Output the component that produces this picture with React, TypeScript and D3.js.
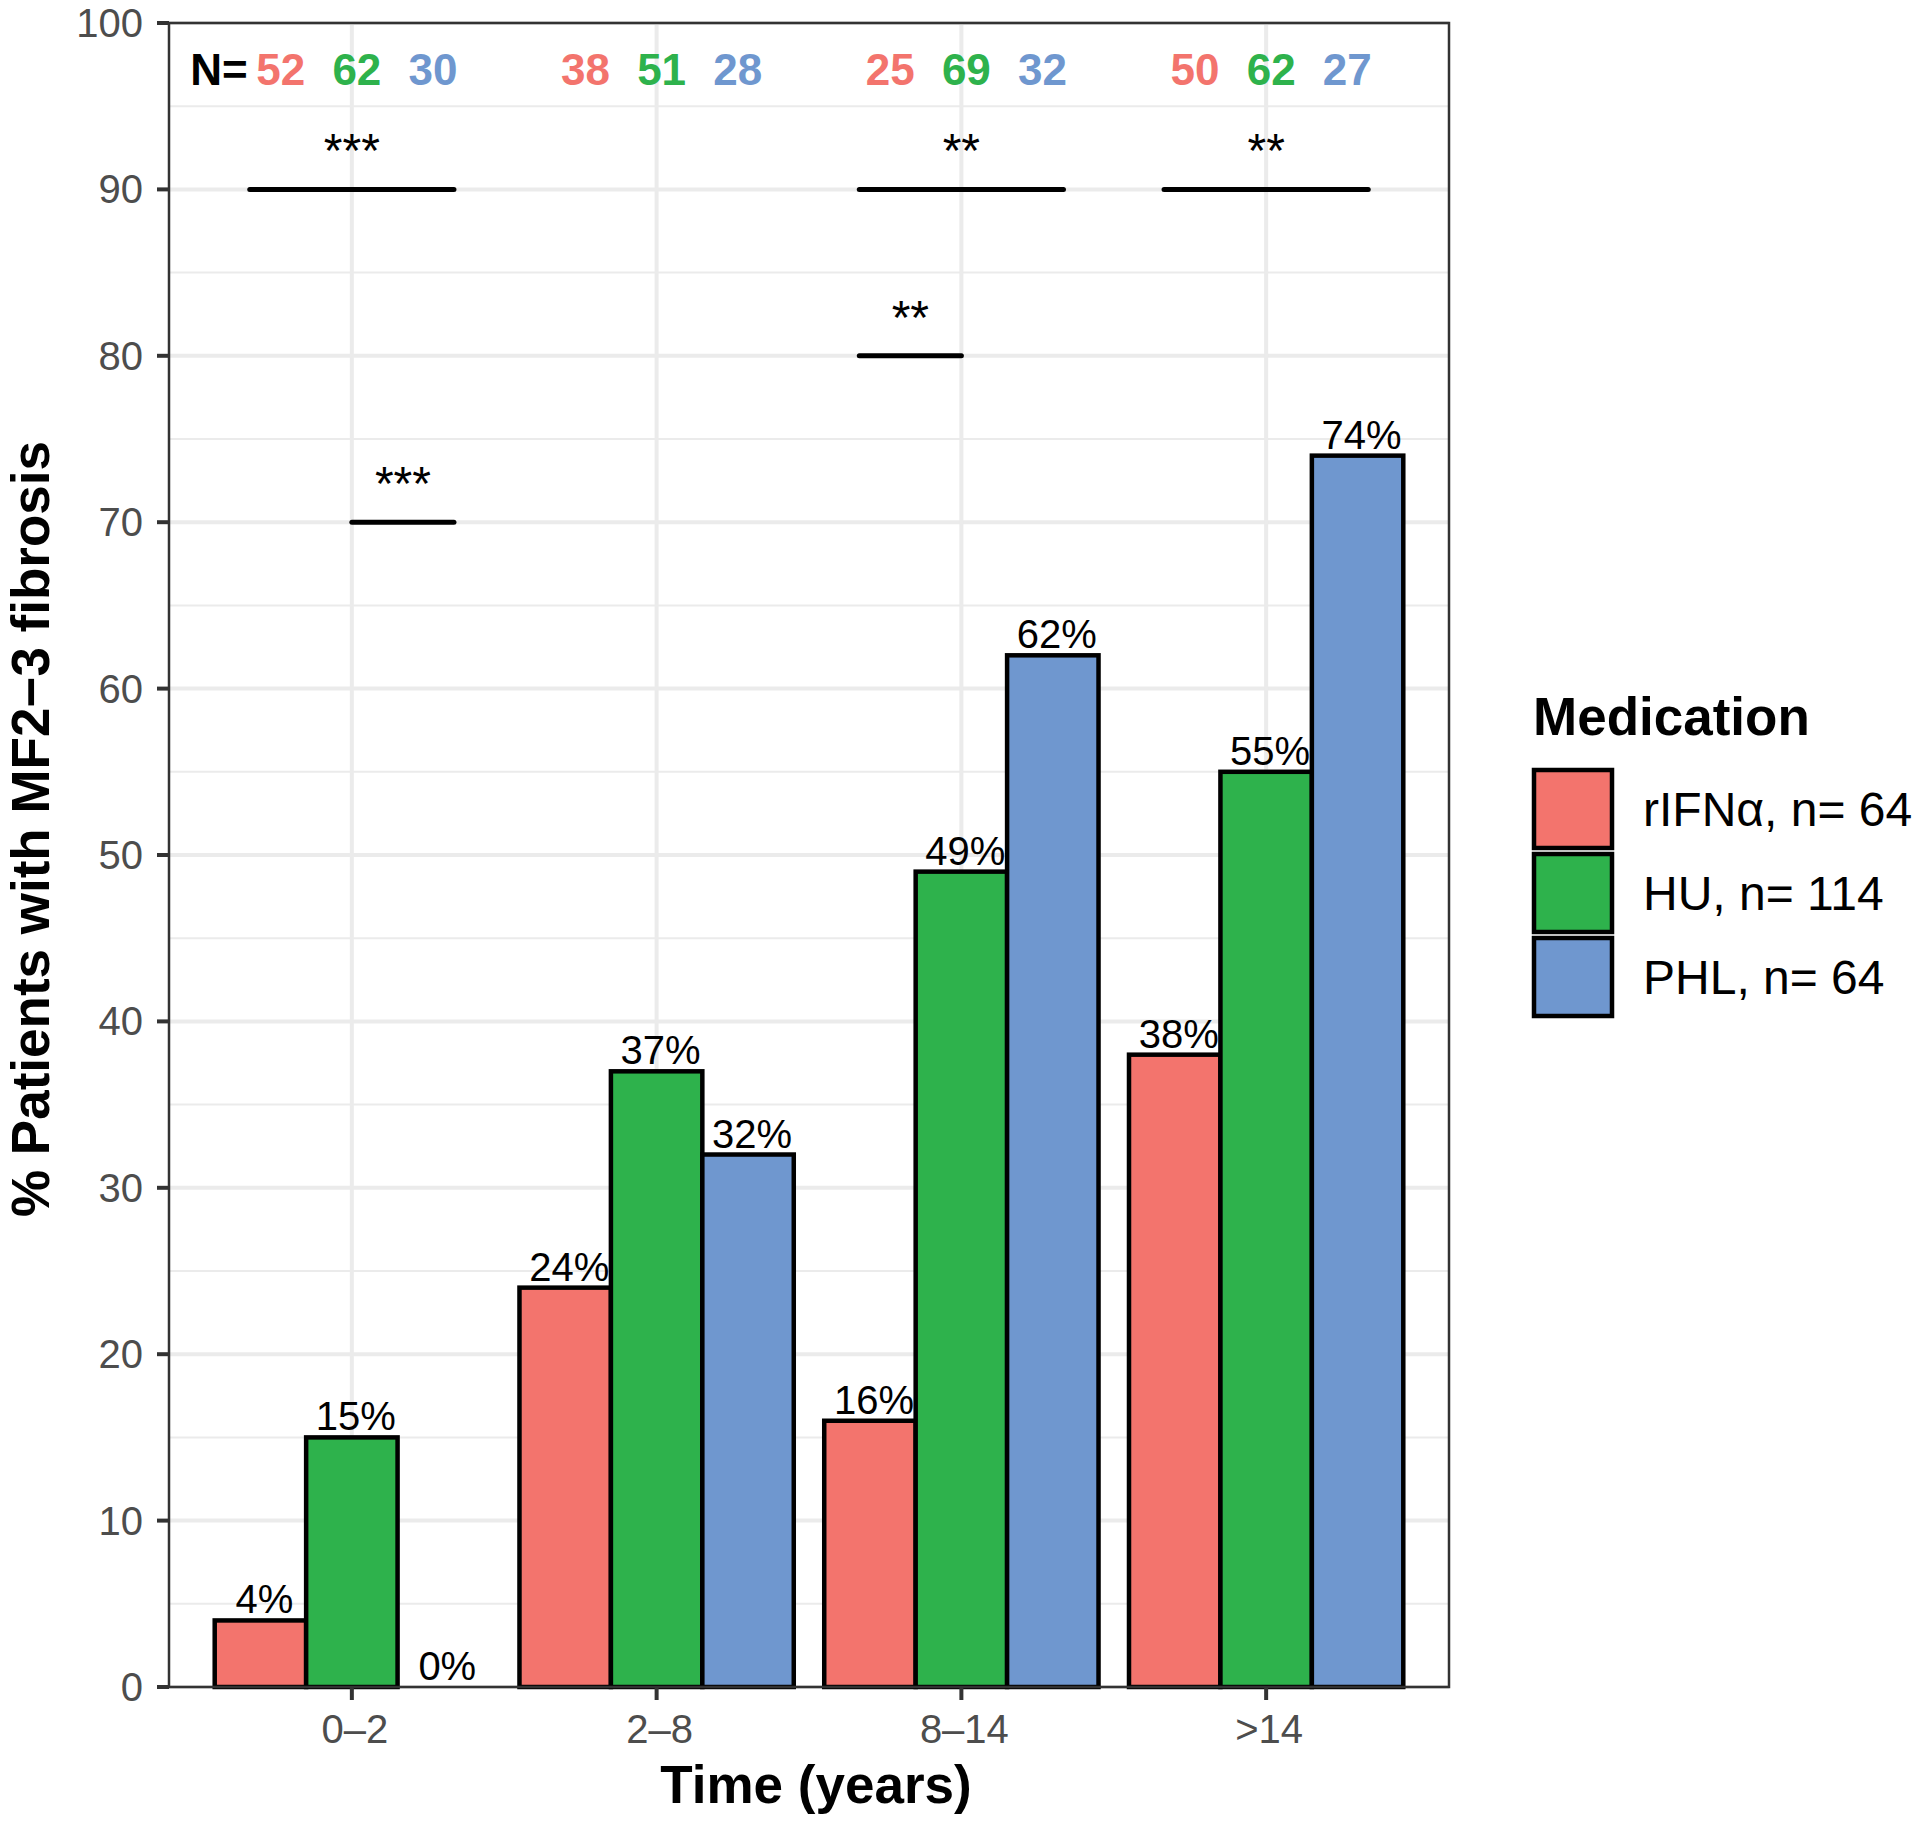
import React from "react";
import * as d3 from "d3";

// ---------- data ----------
const categories = ["0–2", "2–8", "8–14", ">14"];
const series = ["rIFNα", "HU", "PHL"];
const seriesTotals = [64, 114, 64];
const seriesColors = ["#F3746D", "#2EB24C", "#6F97CF"];
const valuesRIFN = [4, 24, 16, 38];
const valuesHU = [15, 37, 49, 55];
const valuesPHL = [0, 32, 62, 74];
const nRIFN = [52, 38, 25, 50];
const nHU = [62, 51, 69, 62];
const nPHL = [30, 28, 32, 27];
const yTicks = [0, 10, 20, 30, 40, 50, 60, 70, 80, 90, 100];
const yMinor = [5, 15, 25, 35, 45, 55, 65, 75, 85, 95];
// significance brackets: category, start & end offset (in category units), y value, label
const sigCategory = ["0–2", "0–2", "8–14", "8–14", ">14"];
const sigFrom = [-0.335, 0, -0.335, -0.335, -0.335];
const sigTo = [0.335, 0.335, 0.335, 0, 0.335];
const sigY = [90, 70, 90, 80, 90];
const sigLabel = ["***", "***", "**", "**", "**"];

const FONT = "'Liberation Sans', Arial, Helvetica, sans-serif";

export default function App() {
  const W = 1920;
  const H = 1825;
  const left = 169;
  const right = 1449;
  const top = 23;
  const bottom = 1687;

  const x = d3
    .scaleBand<string>()
    .domain(categories)
    .range([left, right])
    .paddingInner(0)
    .paddingOuter(0.1);
  const step = x.step();
  const xSub = d3
    .scaleBand<string>()
    .domain(series)
    .range([0, 0.9 * step])
    .padding(0);
  const y = d3.scaleLinear().domain([0, 100]).range([bottom, top]);
  const xLin = d3.scaleLinear().domain([0, 1]).range([0, step]);
  const cx = (c: string) => (x(c) as number) + step / 2;

  const valueSets = [valuesRIFN, valuesHU, valuesPHL];
  const nSets = [nRIFN, nHU, nPHL];

  const barX = (ci: number, si: number) =>
    cx(categories[ci]) - 0.45 * step + (xSub(series[si]) as number);

  const legendX = 1534;
  const legendY = 770;
  const keySize = 78;
  const keyStep = 84;

  return (
    <svg
      width={W}
      height={H}
      style={{ position: "absolute", left: 0, top: 0, display: "block", background: "#fff" }}
      fontFamily={FONT}
    >
      <rect x={0} y={0} width={W} height={H} fill="#fff" />
      {/* minor grid */}
      {yMinor.map((v) => (
        <line key={"mn" + v} x1={left} x2={right} y1={y(v)} y2={y(v)} stroke="#EBEBEB" strokeWidth={2} />
      ))}
      {/* major grid */}
      {yTicks.map((v) => (
        <line key={"mj" + v} x1={left} x2={right} y1={y(v)} y2={y(v)} stroke="#EBEBEB" strokeWidth={4} />
      ))}
      {categories.map((c) => (
        <line key={"vg" + c} x1={cx(c)} x2={cx(c)} y1={top} y2={bottom} stroke="#EBEBEB" strokeWidth={4} />
      ))}

      {/* bars */}
      {categories.map((c, ci) =>
        series.map((s, si) => {
          const v = valueSets[si][ci];
          const bx = barX(ci, si);
          const bw = xSub.bandwidth();
          return (
            <g key={c + s}>
              {v > 0 && (
                <rect
                  x={bx}
                  y={y(v)}
                  width={bw}
                  height={y(0) - y(v)}
                  fill={seriesColors[si]}
                  stroke="#000"
                  strokeWidth={4.5}
                />
              )}
              <text
                x={bx + bw / 2 + 4}
                y={y(v) - 7}
                fontSize={40}
                textAnchor="middle"
                fill="#000"
              >
                {v + "%"}
              </text>
            </g>
          );
        })
      )}

      {/* N labels */}
      <text x={219} y={85} fontSize={44} fontWeight="bold" textAnchor="middle" fill="#000">
        N=
      </text>
      {categories.map((c, ci) =>
        series.map((s, si) => (
          <text
            key={"n" + c + s}
            x={cx(c) + xLin(0.25 * (si - 1)) + 5}
            y={85}
            fontSize={44}
            fontWeight="bold"
            textAnchor="middle"
            fill={seriesColors[si]}
          >
            {nSets[si][ci]}
          </text>
        ))
      )}

      {/* significance brackets */}
      {sigLabel.map((lab, i) => {
        const c = cx(sigCategory[i]);
        const x1 = c + xLin(sigFrom[i]);
        const x2 = c + xLin(sigTo[i]);
        const yy = y(sigY[i]);
        return (
          <g key={"sig" + i}>
            <line x1={x1} x2={x2} y1={yy} y2={yy} stroke="#000" strokeWidth={5} strokeLinecap="round" />
            <text x={(x1 + x2) / 2} y={yy - 22} fontSize={48} textAnchor="middle" fill="#000">
              {lab}
            </text>
          </g>
        );
      })}

      {/* panel border */}
      <rect x={left} y={top} width={right - left} height={bottom - top} fill="none" stroke="#333333" strokeWidth={2.5} />

      {/* y axis ticks & labels */}
      {yTicks.map((v) => (
        <g key={"yt" + v}>
          <line x1={left - 12} x2={left} y1={y(v)} y2={y(v)} stroke="#333333" strokeWidth={4} />
          <text x={143} y={y(v) + 14} fontSize={40} textAnchor="end" fill="#4D4D4D">
            {v}
          </text>
        </g>
      ))}
      {/* x axis ticks & labels */}
      {categories.map((c) => (
        <g key={"xt" + c}>
          <line x1={cx(c)} x2={cx(c)} y1={bottom} y2={bottom + 13} stroke="#333333" strokeWidth={4} />
          <text x={cx(c) + 3} y={1743} fontSize={40} textAnchor="middle" fill="#4D4D4D">
            {c}
          </text>
        </g>
      ))}

      {/* axis titles */}
      <text x={816} y={1803} fontSize={53} fontWeight="bold" textAnchor="middle" fill="#000">
        Time (years)
      </text>
      <text
        transform={`translate(49, 829) rotate(-90)`}
        fontSize={53}
        fontWeight="bold"
        textAnchor="middle"
        fill="#000"
      >
        % Patients with MF2−3 fibrosis
      </text>

      {/* legend */}
      <text x={1533} y={735} fontSize={53} fontWeight="bold" fill="#000">
        Medication
      </text>
      {series.map((s, si) => (
        <g key={"lg" + s}>
          <rect
            x={legendX}
            y={legendY + si * keyStep}
            width={keySize}
            height={keySize}
            fill={seriesColors[si]}
            stroke="#000"
            strokeWidth={4.5}
          />
          <text x={1643} y={legendY + si * keyStep + keySize / 2 + 17} fontSize={48} fill="#000">
            {`${s}, n= ${seriesTotals[si]}`}
          </text>
        </g>
      ))}
    </svg>
  );
}
